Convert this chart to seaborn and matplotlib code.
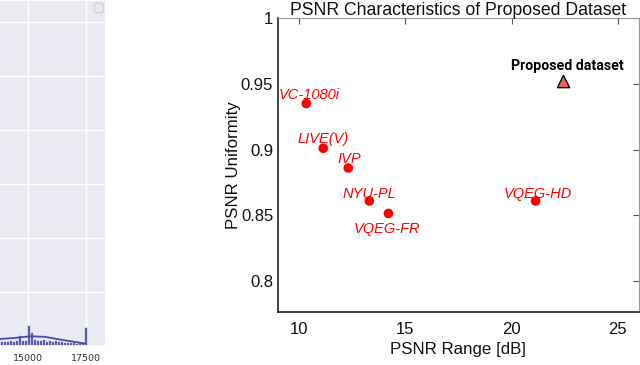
import numpy as np
import matplotlib
matplotlib.use("Agg")
import matplotlib.pyplot as plt
import seaborn as sns
from matplotlib.ticker import FuncFormatter

# left panel (cropped histogram)
hist_centers = [13840, 13970, 14100, 14230, 14360, 14490, 14620, 14750, 14880, 15010,
                15140, 15270, 15400, 15530, 15660, 15790, 15920, 16050, 16180, 16310,
                16440, 16570, 16700, 16830, 16960, 17090, 17220, 17350, 17480]
hist_heights = [0.09, 0.09, 0.09, 0.11, 0.09, 0.11, 0.20, 0.11, 0.11, 0.39,
                0.26, 0.13, 0.11, 0.11, 0.13, 0.09, 0.11, 0.09, 0.11, 0.09,
                0.09, 0.07, 0.07, 0.07, 0.07, 0.055, 0.07, 0.07, 0.35]
kde_x = [13790, 14440, 15090, 15730, 16380, 17030, 17460]
kde_y = [0.13, 0.15, 0.18, 0.17, 0.12, 0.075, 0.045]
hist_ticks = [15000, 17500]

# right panel
datasets = ["VC-1080i", "LIVE(V)", "IVP", "NYU-PL", "VQEG-FR", "VQEG-HD"]
psnr_range = [10.33, 11.13, 12.31, 13.30, 14.20, 21.13]
psnr_uniformity = [0.935, 0.901, 0.886, 0.861, 0.8515, 0.861]
proposed_name = "Proposed dataset"
proposed_range = [22.4]
proposed_uniformity = [0.952]

# label offsets in points (text centre relative to marker)
label_offsets = {
    "VC-1080i": (2, 6),
    "LIVE(V)": (0, 7),
    "IVP": (0.7, 6.5),
    "NYU-PL": (0, 5),
    "VQEG-FR": (-0.7, -11),
    "VQEG-HD": (1.4, 5),
}

sns.set_theme(style="darkgrid")
fig = plt.figure(figsize=(6.4, 3.65), dpi=100)

# ---- left, mostly cropped panel
ax1 = fig.add_axes([-0.065, 0.0520, 0.2306, 0.9480])
sns.histplot(x=hist_centers, weights=hist_heights, binwidth=130, binrange=(13775, 17545),
             color="#4a4aa8", alpha=0.9, edgecolor="white", linewidth=0.4, ax=ax1)
sns.lineplot(x=kde_x, y=kde_y, color="#4a4aa8", linewidth=1.3, ax=ax1)
ax1.set_xlim(12000, 18360)
ax1.set_ylim(0, 6.4)
ax1.set_xticks(hist_ticks)
ax1.set_yticks(range(0, 7))
ax1.tick_params(axis="x", labelsize=6.8, pad=0, colors="#333333")
ax1.set_yticklabels([])
ax1.set_xlabel("")
ax1.set_ylabel("")
ax1.legend(handles=[], loc="upper right", fontsize=8, borderaxespad=0.3)

# ---- right panel
ax = fig.add_axes([0.4344, 0.1452, 0.564, 0.8055])
ax.set_facecolor("white")
ax.grid(False)
sns.scatterplot(x=psnr_range, y=psnr_uniformity, color="red", s=48, edgecolor="none",
                zorder=3, ax=ax)
sns.scatterplot(x=proposed_range, y=proposed_uniformity, marker="^", color="#e8605c",
                s=80, edgecolor="black", linewidth=0.9, zorder=3, ax=ax)

for name, xv, yv in zip(datasets, psnr_range, psnr_uniformity):
    ax.annotate(name, (xv, yv), xytext=label_offsets[name], textcoords="offset points",
                ha="center", va="center", color="red", fontsize=10.5, style="italic",
                family="Liberation Sans")
ax.annotate(proposed_name, (proposed_range[0], proposed_uniformity[0]), xytext=(3.6, 11),
            textcoords="offset points", ha="center", va="center", color="black",
            fontsize=10.2, fontweight="bold", family="Roboto")

ax.set_xlim(9, 26)
ax.set_ylim(0.7766, 1.0)
ax.set_xticks([10, 15, 20, 25])
ax.set_yticks([0.8, 0.85, 0.9, 0.95, 1.0])
ax.yaxis.set_major_formatter(FuncFormatter(lambda v, p: f"{v:g}"))
ax.tick_params(direction="in", length=4, width=0.8, top=True, right=True,
               labelsize=12, colors="#555555", labelcolor="#111111")
ax.tick_params(axis="x", pad=7)
ax.tick_params(axis="y", pad=3.5)
for lbl in ax.get_xticklabels() + ax.get_yticklabels():
    lbl.set_family("Liberation Sans")
for side in ["left", "bottom"]:
    ax.spines[side].set_color("#222222")
    ax.spines[side].set_linewidth(1.2)
for side in ["top", "right"]:
    ax.spines[side].set_color("#999999")
    ax.spines[side].set_linewidth(0.8)

ax.set_xlabel("PSNR Range [dB]", fontsize=12.2, family="Liberation Sans", color="#111111",
              labelpad=4)
ax.set_ylabel("PSNR Uniformity", fontsize=12.2, family="Liberation Sans", color="#111111",
              labelpad=0)
ax.set_title("PSNR Characteristics of Proposed Dataset", fontsize=12.7,
             family="Liberation Sans", color="#111111", pad=2)

fig.savefig("out.png", dpi=100)
